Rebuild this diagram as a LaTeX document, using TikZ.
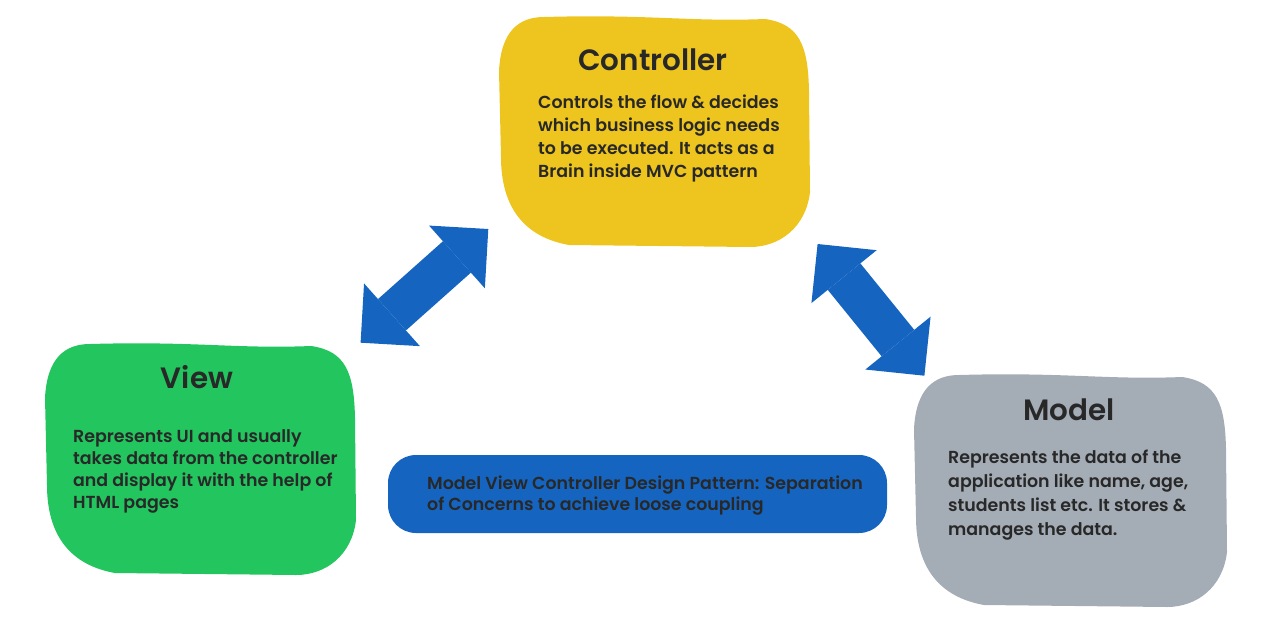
\documentclass[tikz,border=0pt]{standalone}
\usepackage{fontspec}
\setmainfont{Poppins}[BoldFont={Poppins SemiBold}]
\usetikzlibrary{arrows.meta}

\definecolor{ctrlyellow}{RGB}{238,197,30}
\definecolor{viewgreen}{RGB}{34,197,94}
\definecolor{modelgray}{RGB}{164,172,182}
\definecolor{mvcblue}{RGB}{21,101,192}
\definecolor{inkdark}{RGB}{40,40,40}

% hand drawn box: colour, left, top, right, bottom
\newcommand{\mvcblob}[5]{%
  \fill[#1] ({#2+45},{#3+1}) .. controls ({#2+150},{#3-2}) and ({#4-120},{#3+6}) .. ({#4-45},{#3+3})
    .. controls ({#4-10},{#3+8}) and ({#4-2},{#3+30}) .. ({#4-1},{#3+75})
    -- ({#4},{#5-55})
    .. controls ({#4-4},{#5-20}) and ({#4-30},{#5}) .. ({#4-60},{#5})
    -- ({#2+70},{#5-2})
    .. controls ({#2+25},{#5-10}) and ({#2+2},{#5-40}) .. ({#2+2},{#5-90})
    -- ({#2},{#3+55})
    .. controls ({#2+2},{#3+15}) and ({#2+20},{#3+1}) .. cycle;}

\tikzset{
  boxtitle/.style={font=\fontsize{29.4}{34}\selectfont\bfseries, text=inkdark, inner sep=0pt, anchor=base},
  boxbody/.style={font=\fontsize{17.4}{23}\selectfont\bfseries, text=inkdark, inner sep=0pt, align=left, anchor=base west},
  dblarrow/.style={draw=mvcblue, line width=42pt, {Triangle[length=42pt 0 0, width=84pt 0 0, line width=0pt 0 0]}-{Triangle[length=42pt 0 0, width=84pt 0 0, line width=0pt 0 0]}}
}

\begin{document}
\begin{tikzpicture}[x=1pt,y=-1pt]
  \useasboundingbox (0,0) rectangle (1285,619);

  % the three parts
  \mvcblob{ctrlyellow}{499}{16}{810}{247}
  \mvcblob{viewgreen}{45}{343}{356}{575}
  \mvcblob{modelgray}{914}{374}{1227}{607}
  \fill[mvcblue, rounded corners=28pt] (388,455) rectangle (887,533);

  % base west is the last line
  \node[boxtitle] (ctrl) at (653,70) {Controller};
  \node[boxbody] (ctrltxt) at (538,177) {Controls the flow \& decides\\which business logic needs\\to be executed. It acts as a\\Brain inside MVC pattern};

  \node[boxtitle] (view) at (197,388) {View};
  \node[boxbody, font=\fontsize{17.4}{21.7}\selectfont\bfseries] (viewtxt) at (73,508) {Represents UI and usually\\takes data from the controller\\and display it with the help of\\HTML pages};

  \node[boxtitle] (model) at (1069,420) {Model};
  \node[boxbody, font=\fontsize{17.4}{24}\selectfont\bfseries] (modeltxt) at (948,535) {Represents the data of the\\application like name, age,\\students list etc. It stores \&\\manages the data.};

  \node[boxbody, font=\fontsize{17.4}{20.5}\selectfont\bfseries] (note) at (427,510) {Model View Controller Design Pattern: Separation\\of Concerns to achieve loose coupling};

  % links
  \coordinate (va) at (360.6,342.7);
  \coordinate (vb) at (488.3,229);
  \coordinate (ma) at (817.6,244);
  \coordinate (mb) at (924.4,375.7);
  \foreach \from/\to in {va/vb,ma/mb}
    \draw[dblarrow] (\from) -- (\to);
\end{tikzpicture}
\end{document}
